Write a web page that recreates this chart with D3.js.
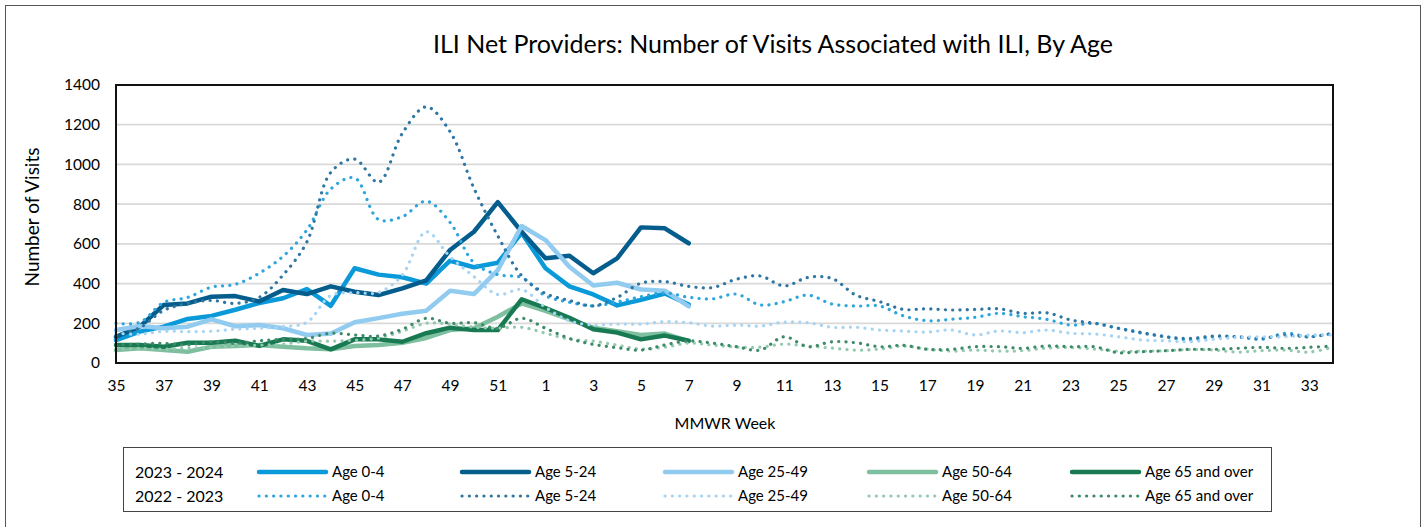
<!DOCTYPE html>
<html>
<head>
<meta charset="utf-8">
<script src="https://cdnjs.cloudflare.com/ajax/libs/d3/7.8.5/d3.min.js"></script>
<style>
	body { margin: 0; background: #fff; }
	text { font-family: Lato, "Open Sans", sans-serif; fill: #000; }
</style>
</head>
<body>
<div class="svg-container"></div>
<script>

// MMWR weeks, 35 of one year through 34 of the next
var weeks = [ 35, 36, 37, 38, 39, 40, 41, 42, 43, 44, 45, 46, 47, 48, 49, 50, 51, 52,
	1, 2, 3, 4, 5, 6, 7, 8, 9, 10, 11, 12, 13, 14, 15, 16, 17, 18, 19, 20, 21, 22, 23, 24,
	25, 26, 27, 28, 29, 30, 31, 32, 33, 34 ];

var y_ticks = [ 0, 200, 400, 600, 800, 1000, 1200, 1400 ];
var x_tick_labels = [ 35, 37, 39, 41, 43, 45, 47, 49, 51, 1, 3, 5, 7, 9, 11, 13, 15, 17, 19, 21, 23, 25, 27, 29, 31, 33 ];

var ages = [ "Age 0-4", "Age 5-24", "Age 25-49", "Age 50-64", "Age 65 and over" ];
var seasons = [ "2023 - 2024", "2022 - 2023" ];

// 2023 - 2024, week 35 to week 7
var age0_4_2324   = [ 115, 158, 183, 222, 237, 268, 302, 326, 372, 288, 477, 445, 432, 400, 515, 482, 505, 655, 477, 386, 345, 290, 318, 350, 295 ];
var age5_24_2324  = [ 132, 183, 292, 300, 334, 337, 310, 368, 347, 386, 359, 342, 376, 416, 569, 661, 810, 661, 527, 540, 452, 527, 683, 678, 603 ];
var age25_49_2324 = [ 166, 186, 175, 183, 220, 185, 191, 175, 141, 148, 205, 226, 248, 263, 364, 347, 468, 690, 619, 485, 390, 404, 370, 364, 285 ];
var age50_64_2324 = [ 65, 74, 65, 57, 82, 86, 91, 82, 74, 69, 86, 91, 102, 126, 166, 175, 233, 300, 262, 220, 178, 160, 141, 148, 110 ];
var age65_2324    = [ 91, 91, 82, 102, 102, 112, 86, 119, 112, 69, 119, 119, 107, 150, 178, 166, 166, 321, 277, 228, 170, 153, 119, 138, 112 ];

// 2022 - 2023, week 35 to week 34
var age0_4_2223   = [ 200, 205, 305, 330, 382, 396, 452, 537, 670, 876, 932, 723, 737, 815, 708, 505, 445, 430, 338, 306, 288, 307, 334, 353,
	331, 323, 347, 292, 309, 342, 297, 287, 287, 237, 213, 220, 230, 250, 233, 220, 191, 200, 175, 150, 132, 116, 132, 132, 119, 150, 132, 150 ];
var age5_24_2223  = [ 140, 178, 265, 300, 315, 300, 330, 443, 610, 960, 1027, 910, 1157, 1290, 1165, 880, 640, 440, 350, 315, 288, 330, 402, 410,
	386, 380, 422, 438, 388, 431, 426, 342, 309, 270, 273, 267, 270, 273, 250, 253, 217, 200, 175, 153, 132, 124, 136, 132, 124, 141, 132, 150 ];
var age25_49_2223 = [ 150, 145, 160, 158, 160, 170, 175, 183, 205, 340, 354, 355, 443, 661, 535, 435, 345, 370, 280, 213, 191, 196, 196, 208,
	203, 186, 191, 186, 206, 203, 180, 180, 166, 161, 156, 166, 141, 161, 153, 166, 150, 146, 132, 116, 112, 107, 119, 129, 132, 132, 141, 141 ];
var age50_64_2223 = [ 70, 74, 70, 75, 80, 85, 90, 95, 110, 110, 115, 125, 160, 200, 195, 180, 175, 180, 150, 120, 110, 90, 70, 80,
	100, 90, 80, 80, 95, 85, 75, 65, 70, 85, 70, 60, 65, 60, 62, 75, 78, 70, 60, 60, 62, 68, 65, 55, 62, 65, 55, 80 ];
var age65_2223    = [ 91, 96, 99, 91, 107, 99, 112, 119, 124, 150, 141, 136, 170, 225, 200, 203, 175, 225, 175, 124, 94, 77, 65, 91,
	111, 100, 82, 65, 132, 82, 107, 102, 82, 89, 69, 69, 82, 82, 74, 86, 82, 82, 52, 57, 62, 69, 69, 74, 79, 74, 79, 86 ];

(function () {

	"use strict";

	// colors
	var solid_colors 	= [ "#0a9ad9", "#045d8d", "#92cbf0", "#7dbf9e", "#187a52" ];
	var dot_colors 		= [ "#2ea6dd", "#2f77a2", "#a6d4f2", "#93c9ae", "#3f8a68" ];

	var width 	= 1426,
		height 	= 527,
		plot 	= { "left": 116, "right": 1333, "top": 85, "bottom": 363 };

	var svg = d3.select(".svg-container").append("svg")
		.attr("width", width)
		.attr("height", height);

	// outer chart border
	svg.append("rect")
		.attr("x", 5.5).attr("y", 5.5)
		.attr("width", 1415).attr("height", 540)
		.attr("fill", "none")
		.attr("stroke", "#555")
		.attr("stroke-width", 1);

	var x = d3.scalePoint()
		.domain(weeks)
		.range([ plot.left, plot.right ]);

	var y = d3.scaleLinear()
		.domain([ 0, 1400 ])
		.range([ plot.bottom, plot.top ]);

	// gridlines
	svg.append("g")
		.selectAll("line")
		.data(y_ticks.slice(1, -1))
		.enter()
		.append("line")
		.attr("x1", plot.left).attr("x2", plot.right)
		.attr("y1", function (d) { return y(d); })
		.attr("y2", function (d) { return y(d); })
		.attr("stroke", "#d9d9d9")
		.attr("stroke-width", 1.8);

	// axes
	var y_axis = svg.append("g")
		.attr("transform", "translate(" + plot.left + ",0)")
		.call(d3.axisLeft(y).tickValues(y_ticks).tickFormat(d3.format("d")).tickSize(0).tickPadding(16));

	var x_axis = svg.append("g")
		.attr("transform", "translate(0," + plot.bottom + ")")
		.call(d3.axisBottom(x).tickValues(x_tick_labels).tickSize(0).tickPadding(17));

	[ y_axis, x_axis ].forEach(function (a) {
		a.select(".domain").remove();
		a.selectAll("text")
			.style("font-family", "Lato, sans-serif")
			.style("font-size", "15.5px")
			.attr("fill", "#000");
	});

	// lines
	var solid_series = [ age0_4_2324, age5_24_2324, age25_49_2324, age50_64_2324, age65_2324 ];
	var dot_series 	 = [ age0_4_2223, age5_24_2223, age25_49_2223, age50_64_2223, age65_2223 ];

	var straight = d3.line()
		.x(function (d, i) { return x(weeks[i]); })
		.y(function (d) { return y(d); });

	var smooth = d3.line()
		.x(function (d, i) { return x(weeks[i]); })
		.y(function (d) { return y(d); })
		.curve(d3.curveCatmullRom);

	svg.append("g")
		.selectAll("path")
		.data(solid_series)
		.enter()
		.append("path")
		.attr("d", straight)
		.attr("fill", "none")
		.attr("stroke", function (d, i) { return solid_colors[i]; })
		.attr("stroke-width", 4.5)
		.attr("stroke-linejoin", "round")
		.attr("stroke-linecap", "round");

	svg.append("g")
		.selectAll("path")
		.data(dot_series)
		.enter()
		.append("path")
		.attr("d", smooth)
		.attr("fill", "none")
		.attr("stroke", function (d, i) { return dot_colors[i]; })
		.attr("stroke-width", 3.2)
		.attr("stroke-linecap", "round")
		.attr("stroke-dasharray", "0.1 7.2");

	// plot area border
	svg.append("rect")
		.attr("x", plot.left).attr("y", plot.top)
		.attr("width", plot.right - plot.left)
		.attr("height", plot.bottom - plot.top)
		.attr("fill", "none")
		.attr("stroke", "#111")
		.attr("stroke-width", 2);

	// titles
	svg.append("text")
		.attr("x", 773).attr("y", 53)
		.attr("text-anchor", "middle")
		.style("font-size", "25px")
		.text("ILI Net Providers: Number of Visits Associated with ILI, By Age");

	svg.append("text")
		.attr("x", 725).attr("y", 429)
		.attr("text-anchor", "middle")
		.style("font-size", "16px")
		.text("MMWR Week");

	svg.append("text")
		.attr("transform", "translate(39,217) rotate(-90)")
		.attr("text-anchor", "middle")
		.style("font-size", "19px")
		.text("Number of Visits");

	// legend
	var legend = svg.append("g");

	legend.append("rect")
		.attr("x", 123.5).attr("y", 447.5)
		.attr("width", 1148).attr("height", 64)
		.attr("fill", "#fff")
		.attr("stroke", "#444")
		.attr("stroke-width", 1);

	var row_y 	= [ 472, 496 ];
	var col_x 	= [ 257, 460, 663, 867, 1070 ];

	legend.selectAll(".season")
		.data(seasons)
		.enter()
		.append("text")
		.attr("class", "season")
		.attr("x", 135)
		.attr("y", function (d, i) { return row_y[i] + 5.5; })
		.style("font-size", "16px")
		.text(function (d) { return d; });

	[ solid_colors, dot_colors ].forEach(function (colors, r) {

		var items = legend.selectAll(".item-" + r)
			.data(ages)
			.enter()
			.append("g")
			.attr("class", "item-" + r)
			.attr("transform", function (d, i) { return "translate(" + col_x[i] + "," + row_y[r] + ")"; });

		items.append("line")
			.attr("x1", 2).attr("x2", 69)
			.attr("stroke", function (d, i) { return colors[i]; })
			.attr("stroke-width", r === 0 ? 4.5 : 3.2)
			.attr("stroke-linecap", "round")
			.attr("stroke-dasharray", r === 0 ? null : "0.1 7.2");

		items.append("text")
			.attr("x", 75)
			.attr("y", 5)
			.style("font-size", "15px")
			.text(function (d) { return d; });

	});

})();

</script>
</body>
</html>
